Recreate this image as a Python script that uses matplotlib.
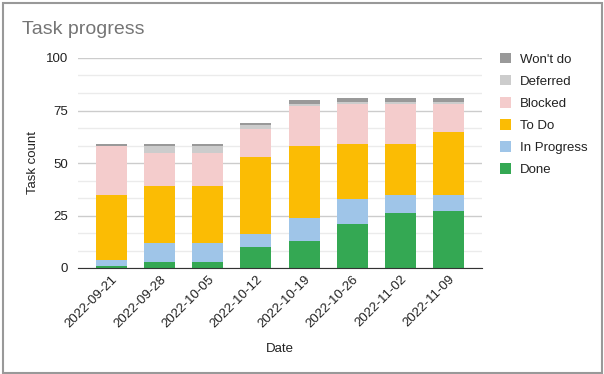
#import modules
import matplotlib
matplotlib.use("Agg")
import matplotlib.pyplot as plt
from matplotlib.patches import Rectangle

plt.rcParams["font.family"] = ["Liberation Sans", "DejaVu Sans"]

#data
dates = ["2022-09-21", "2022-09-28", "2022-10-05", "2022-10-12",
         "2022-10-19", "2022-10-26", "2022-11-02", "2022-11-09"]
done = [1, 3, 3, 10, 13, 21, 26, 27]
in_progress = [3, 9, 9, 6, 11, 12, 9, 8]
to_do = [31, 27, 27, 37, 34, 26, 24, 30]
blocked = [23, 16, 16, 13, 19, 19, 19, 13]
deferred = [0, 3, 3, 2, 1, 1, 1, 1]
wont_do = [1, 1, 1, 1, 2, 2, 2, 2]

series = [("Done", done, "#34a853"),
          ("In Progress", in_progress, "#9fc5e8"),
          ("To Do", to_do, "#fbbc04"),
          ("Blocked", blocked, "#f4cccc"),
          ("Deferred", deferred, "#cccccc"),
          ("Won't do", wont_do, "#999999")]

fig = plt.figure(figsize=(6.04, 3.74), dpi=100)
W, H = 604, 374
ax = fig.add_axes([78 / W, (H - 268) / H, 404 / W, 210 / H])

#stacked bars
x = list(range(len(dates)))
bottom = [0] * len(dates)
handles = []
for name, vals, color in series:
    b = ax.bar(x, vals, bottom=bottom, width=0.644, color=color, label=name, zorder=3)
    handles.append(b)
    bottom = [a + v for a, v in zip(bottom, vals)]

ax.set_xlim(-0.696, 7.696)
ax.set_ylim(0, 100)

#gridlines
ax.set_yticks([0, 25, 50, 75, 100])
ax.set_yticks([i * 25 / 3 for i in range(13)], minor=True)
ax.yaxis.grid(True, which="major", color="#cccccc", linewidth=1, zorder=0)
ax.yaxis.grid(True, which="minor", color="#ebebeb", linewidth=1, zorder=0)
ax.tick_params(axis="y", which="both", length=0, labelsize=9.5, pad=7, colors="#222222")
ax.tick_params(axis="x", length=0, labelsize=9.5, pad=4, colors="#222222")
for s in ["top", "right", "left"]:
    ax.spines[s].set_visible(False)
ax.spines["bottom"].set_color("#333333")
ax.spines["bottom"].set_zorder(4)

ax.set_xticks(x)
ax.set_xticklabels(dates, rotation=45, ha="right", rotation_mode="anchor")

ax.set_xlabel("Date", fontsize=9.5, color="#222222", labelpad=9)
ax.set_ylabel("Task count", fontsize=9.5, color="#222222", labelpad=5)

#title
fig.text(22 / W, 1 - 30 / H, "Task progress", fontsize=14, color="#757575", va="center")

#legend, reversed order like the original
leg = fig.legend(handles[::-1], [s[0] for s in series][::-1],
                 loc="upper left", bbox_to_anchor=(488 / W, 1 - 41 / H),
                 frameon=False, fontsize=9.5, handlelength=0.85, handleheight=0.85,
                 labelspacing=0.7, handletextpad=0.65)
for t in leg.get_texts():
    t.set_color("#222222")

#outer frame
fig.patches.append(Rectangle((2.5 / W, 1.5 / H), 599 / W, 370 / H, transform=fig.transFigure,
                             fill=False, edgecolor="#999999", linewidth=1.5))

fig.savefig("out.png", dpi=100)
